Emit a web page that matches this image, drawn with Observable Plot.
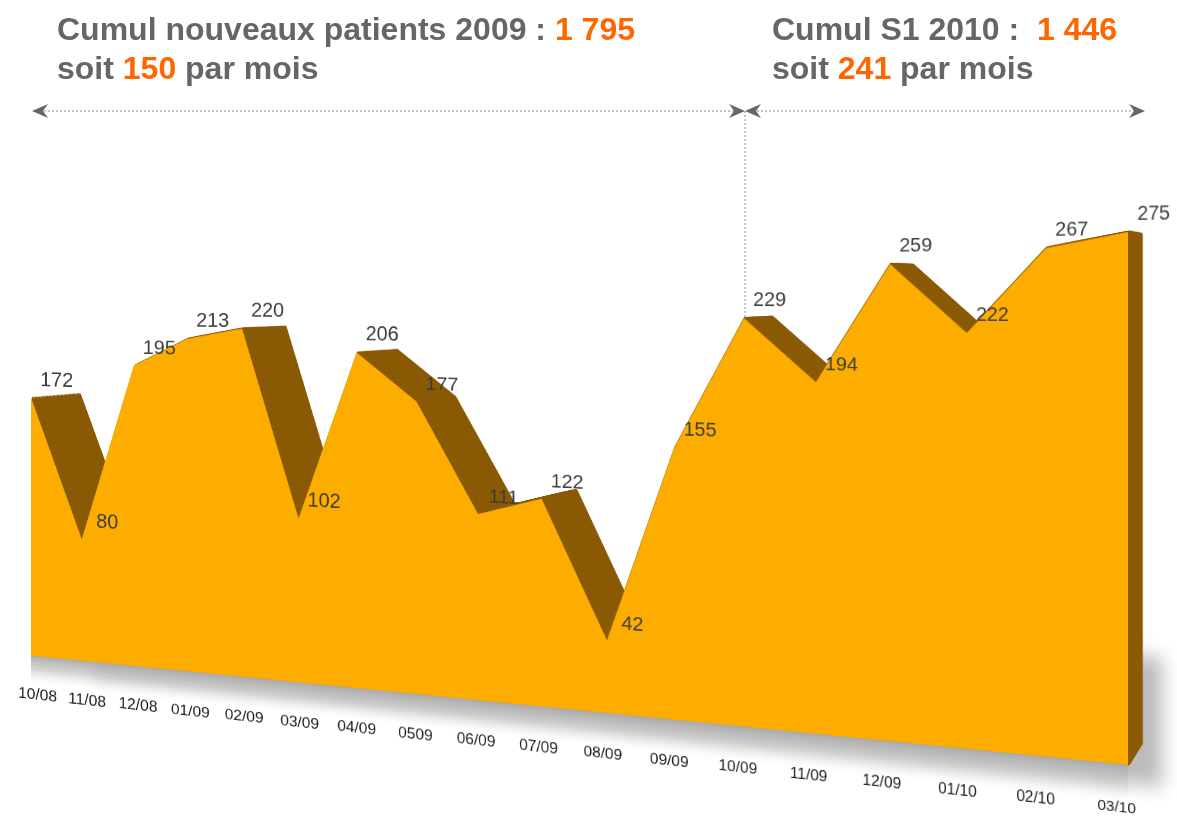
<!DOCTYPE html>
<html><head><meta charset="utf-8">
<script src="https://cdn.jsdelivr.net/npm/d3@7"></script>
<script src="https://cdn.jsdelivr.net/npm/@observablehq/plot@0.6"></script>
<style>
html,body{margin:0;padding:0;background:#fff;width:1177px;height:816px;overflow:hidden;}
#stage{position:relative;width:1177px;height:816px;overflow:hidden;background:#fff;}
.hdr{position:absolute;font-family:"Liberation Sans",Arial,sans-serif;font-weight:bold;font-size:32px;color:#666;line-height:39px;white-space:nowrap;z-index:5;}
.hdr b{color:#ff6600;}
#scene{position:absolute;left:-396px;top:0;width:1586px;height:830px;transform-style:preserve-3d;transform-origin:1526px 283px;transform:perspective(1200px) rotateY(-13.91deg);}
#scene svg{position:absolute;left:0;top:0;}
#overlay{position:absolute;left:0;top:0;z-index:6;}
</style></head>
<body>
<div id="stage">
  <div id="scene"></div>
  <div class="hdr" style="left:57px;top:10px;">Cumul nouveaux patients 2009 : <b>1 795</b><br>soit <b>150</b> par mois</div>
  <div class="hdr" style="left:772px;top:10px;">Cumul S1 2010 :&nbsp; <b>1 446</b><br>soit <b>241</b> par mois</div>
  <svg id="overlay" width="1177" height="816">
    <g stroke="#888" stroke-width="1" stroke-dasharray="2 2" fill="none">
      <line x1="40" y1="111" x2="737" y2="111"/>
      <line x1="753" y1="111" x2="1137" y2="111"/>
      <line x1="745" y1="111" x2="745" y2="320"/>
    </g>
    <g fill="#666">
      <path d="M32,111 L48,104 L43,111 L48,118 Z"/>
      <path d="M745,111 L729,104 L734,111 L729,118 Z"/>
      <path d="M745,111 L761,104 L756,111 L761,118 Z"/>
      <path d="M1145,111 L1129,104 L1134,111 L1129,118 Z"/>
    </g>
  </svg>
</div>
<script>
const months = ["10/08","11/08","12/08","01/09","02/09","03/09","04/09","0509","06/09","07/09","08/09","09/09","10/09","11/09","12/09","01/10","02/10","03/10"];
const values = [172,80,195,213,220,102,206,177,111,122,42,155,229,194,259,222,267,275];
const data = months.map((m, i) => ({month: m, value: values[i], i}));

// layout / perspective styling constants
const W = 1586, H = 830, ML = 60, MR = 60, MT = 183.6, MB = 65;
const PERSP = 1200, ANGLE = 13.91 * Math.PI / 180, SPAN = W - ML - MR;
const DEPTH = 58, NLAYERS = 36;
const ORANGE = "#fdac00", DARK = "#8a5903";
const SHADOW_BAND = 70, FLOOR_SHADOW = -20;

// perspective factors at each month, used to keep texts even on screen
const n = months.length - 1;
const uAt = i => -SPAN * (n - i) / n;
const sAt = i => PERSP / (PERSP - uAt(i) * Math.sin(ANGLE));            // vertical screen scale
const hAt = i => sAt(i) * Math.cos(ANGLE) * (1 + uAt(i) * sAt(i) * Math.sin(ANGLE) / PERSP); // horizontal

function base(extra) {
  return Object.assign({
    width: W, height: H,
    marginLeft: ML, marginRight: MR, marginTop: MT, marginBottom: MB,
    x: {type: "point", domain: months, padding: 0, axis: null},
    y: {domain: [0, 300], axis: null},
    style: {background: "transparent", overflow: "visible", fontFamily: "Liberation Sans, Arial, sans-serif"}
  }, extra);
}

const scene = document.getElementById("scene");
const ns = "http://www.w3.org/2000/svg";
function addLayer(svg, z) {
  svg.style.transform = `translateZ(${z}px)`;
  scene.appendChild(svg);
}
function addDefs(svg, html) {
  const defs = document.createElementNS(ns, "defs");
  defs.innerHTML = html;
  svg.insertBefore(defs, svg.firstChild);
}

// cast shadow behind the right end (behind everything)
const shadow = Plot.plot(base({marks: [Plot.areaY(data, {x: "month", y1: 0, y2: SHADOW_BAND, fill: "#000"})]}));
addDefs(shadow, `<filter id="sh" x="-10%" y="-50%" width="130%" height="250%">
  <feOffset in="SourceAlpha" dx="22" dy="44"/>
  <feGaussianBlur stdDeviation="10"/>
  <feComponentTransfer><feFuncA type="linear" slope="0.27"/></feComponentTransfer>
</filter>`);
shadow.querySelectorAll("path").forEach(p => p.setAttribute("filter", "url(#sh)"));
addLayer(shadow, -DEPTH - 1);

// extruded depth layers
for (let k = NLAYERS; k >= 1; k--) {
  const layer = Plot.plot(base({marks: [
    Plot.areaY(data, {x: "month", y: "value", fill: DARK, stroke: DARK, strokeWidth: 2.5, strokeLinejoin: "round"})
  ]}));
  addLayer(layer, -k * DEPTH / NLAYERS);
}

// front face with floor shadow and labels
const front = Plot.plot(base({
  marks: [
    Plot.areaY(data, {x: "month", y1: 0, y2: FLOOR_SHADOW, fill: "url(#floor)"}),
    Plot.areaY(data, {x: "month", y: "value", fill: ORANGE}),
    Plot.text(data, {x: "month", y: "value", text: d => String(d.value), fontSize: 19.5, fill: "#3c3c3c", className: "vlab"}),
    Plot.text(data, {x: "month", frameAnchor: "bottom", text: "month", fontSize: 15.5, fill: "#1e1e1e", className: "xlab"})
  ]
}));
addDefs(front, `<linearGradient id="floor" x1="0" y1="0" x2="0" y2="1">
  <stop offset="0" stop-color="#aaaaaa" stop-opacity="0.95"/>
  <stop offset="0.45" stop-color="#c8c8c8" stop-opacity="0.75"/>
  <stop offset="1" stop-color="#ffffff" stop-opacity="0"/>
</linearGradient>`);
// undo the perspective foreshortening of the texts and offset them on screen
function fixTexts(sel, offset) {
  front.querySelectorAll(sel + " text").forEach((t, j) => {
    const i = data[j].i, [ox, oy] = offset(i);
    const tr = t.getAttribute("transform") || "";
    t.setAttribute("transform", `${tr} translate(${ox / hAt(i)},${oy / sAt(i)}) scale(${1 / hAt(i)},${1 / sAt(i)})`);
  });
}
fixTexts(".vlab", i => [25, -19]);
fixTexts(".xlab", i => [6 - 18 * i / n, 43 + 4 * i / n]);
addLayer(front, 0);
</script>
</body></html>
